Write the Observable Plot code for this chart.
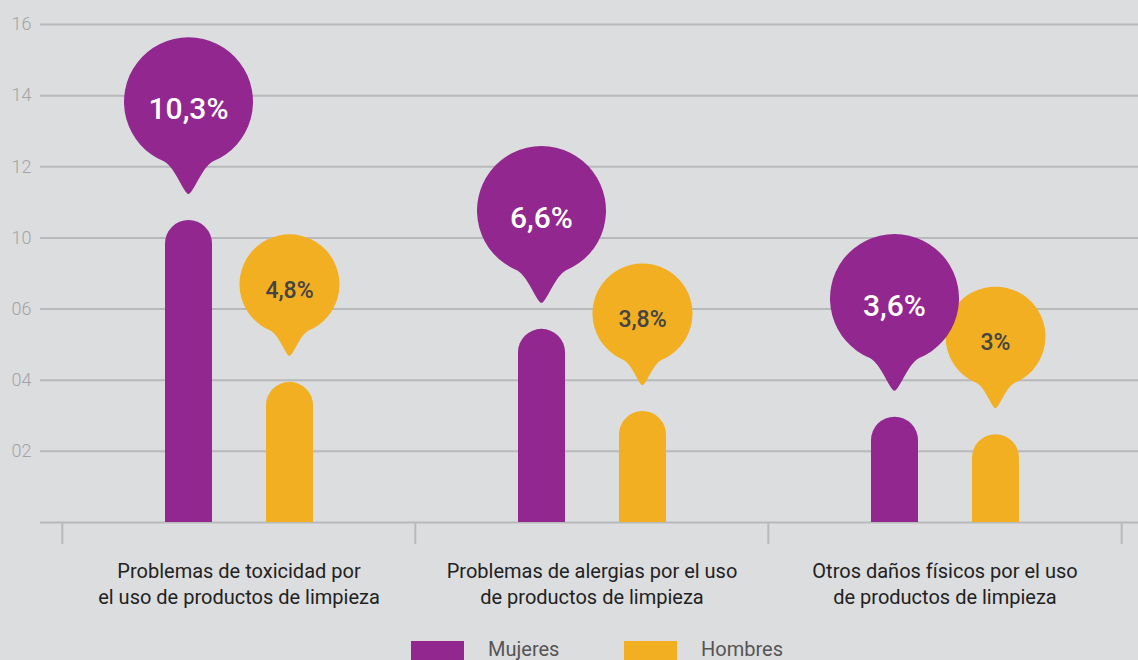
<!DOCTYPE html>
<html><head><meta charset="utf-8">
<script src="https://cdn.jsdelivr.net/npm/d3@7"></script>
<script src="https://cdn.jsdelivr.net/npm/@observablehq/plot@0.6"></script>
<style>
html,body{margin:0;padding:0;background:#dcdddf;width:1138px;height:660px;overflow:hidden;font-family:Roboto,"Noto Sans",sans-serif;}
#chart svg{display:block;}
#legend{position:relative;height:28px;width:1138px;}
.sw{position:absolute;top:9px;width:53px;height:22px;}
.lt{position:absolute;top:5px;font-size:20px;color:#555;line-height:24px;}
</style></head><body><div id="chart"></div><div id="legend"></div>
<script>
const categories = [
  "Problemas de toxicidad por\nel uso de productos de limpieza",
  "Problemas de alergias por el uso\nde productos de limpieza",
  "Otros daños físicos por el uso\nde productos de limpieza"
];
const series = ["Mujeres", "Hombres"];
const barMujeres = [8.49, 5.43, 2.96];
const barHombres = [3.94, 3.12, 2.47];
const labelMujeres = ["10,3%", "6,6%", "3,6%"];
const labelHombres = ["4,8%", "3,8%", "3%"];
const yTickValues = [2, 4, 6, 8, 10, 12, 14];
const yTickLabels = ["02", "04", "06", "10", "12", "14", "16"];
const seriesColors = ["#92278f", "#f3af22"];

const rows = categories.flatMap((c, i) => [
  {cat: c, series: "Mujeres", value: barMujeres[i], label: labelMujeres[i]},
  {cat: c, series: "Hombres", value: barHombres[i], label: labelHombres[i]}
]);

const W = 1138, H = 632;
const xRange = [61, 1121];
const bw = (xRange[1] - xRange[0]) / categories.length;
const gridColor = "#b8b9ba";

const style = {
  Mujeres: {color: seriesColors[0], dx: -50.5, r: 64.5, textFill: "#ffffff", fontSize: 30, textDy: -111},
  Hombres: {color: seriesColors[1], dx: 50.5, r: 50, textFill: "#444444", fontSize: 23, textDy: -92}
};

// pin-shaped symbol: origin at the tip, circle above
const pin = {
  draw(ctx, size) {
    const R = Math.sqrt(size / Math.PI);
    const D = 1.43 * R;
    const th = 22 * Math.PI / 180;
    const sx = R * Math.sin(th), sy = -D + R * Math.cos(th);
    const aL = Math.atan2(Math.cos(th), -Math.sin(th));
    const aR = Math.atan2(Math.cos(th), Math.sin(th));
    ctx.moveTo(-sx, sy);
    ctx.arc(0, -D, R, aL, aR + 2 * Math.PI, false);
    ctx.bezierCurveTo(0.2 * R, -0.4 * R, 0.07 * R, 0, 0, 0);
    ctx.bezierCurveTo(-0.07 * R, 0, -0.2 * R, -0.4 * R, -sx, sy);
    ctx.closePath();
  }
};

const marks = [
  Plot.gridY(yTickValues, {stroke: gridColor, strokeOpacity: 1, strokeWidth: 2}),
  Plot.ruleY([0], {stroke: gridColor, strokeWidth: 2}),
  Plot.axisY(yTickValues, {
    tickSize: 0, tickPadding: 9, fontSize: 18, fill: "#a3a4a6", fontWeight: 300, label: null,
    tickFormat: d => yTickLabels[yTickValues.indexOf(d)]
  }),
  Plot.ruleX(categories, {x: d => d, dx: -bw / 2, stroke: gridColor, strokeWidth: 2, insetTop: 498, insetBottom: -22}),
  Plot.ruleX([categories[categories.length - 1]], {x: d => d, dx: bw / 2, stroke: gridColor, strokeWidth: 2, insetTop: 498, insetBottom: -22})
];

for (const s of series) {
  const st = style[s];
  marks.push(Plot.ruleX(rows.filter(d => d.series === s), {
    x: "cat", y1: 0, y2: "value", stroke: st.color, strokeWidth: 47,
    strokeLinecap: "round", dx: st.dx, dy: 23.5, clip: true
  }));
}
for (const s of ["Hombres", "Mujeres"]) {
  const st = style[s];
  marks.push(Plot.dot(rows.filter(d => d.series === s), {
    x: "cat", y: "value", r: st.r, symbol: pin, fill: st.color, stroke: null,
    dx: st.dx, dy: -26.5
  }));
}
for (const s of series) {
  const st = style[s];
  marks.push(Plot.text(rows.filter(d => d.series === s), {
    x: "cat", y: "value", text: "label", dx: st.dx, dy: st.textDy,
    fill: st.textFill, fontSize: st.fontSize, fontWeight: 500
  }));
}
marks.push(Plot.text(categories, {
  x: d => d, text: d => d, frameAnchor: "bottom", lineAnchor: "top", dy: 37,
  fontSize: 20, fill: "#222222", lineHeight: 1.3
}));

const chart = Plot.plot({
  width: W, height: H,
  marginLeft: 40, marginRight: 0, marginTop: 24, marginBottom: 110,
  x: {type: "band", domain: categories, range: xRange, padding: 0, axis: null},
  y: {domain: [0, 14], axis: null},
  style: {fontFamily: "Roboto, 'Noto Sans', sans-serif", background: "transparent", overflow: "visible"},
  marks
});
document.getElementById("chart").appendChild(chart);

const legend = document.getElementById("legend");
const legendPos = [[411, 488], [624, 701]];
series.forEach((s, i) => {
  const sw = document.createElement("div");
  sw.className = "sw";
  sw.style.left = legendPos[i][0] + "px";
  sw.style.background = seriesColors[i];
  legend.appendChild(sw);
  const t = document.createElement("div");
  t.className = "lt";
  t.style.left = legendPos[i][1] + "px";
  t.textContent = s;
  legend.appendChild(t);
});
</script>
</body></html>
